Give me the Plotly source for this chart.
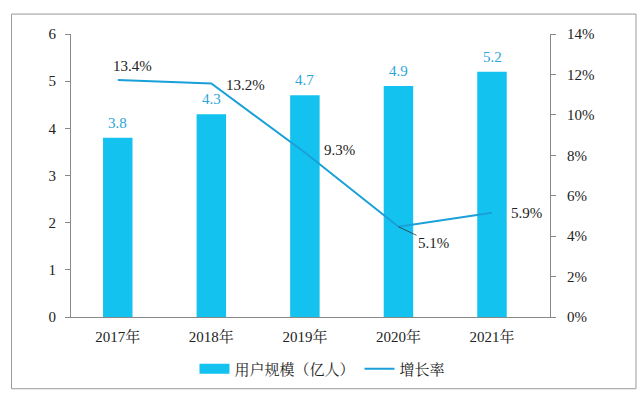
import plotly.graph_objects as go

years = ["2017年", "2018年", "2019年", "2020年", "2021年"]
users = [3.8, 4.3, 4.7, 4.9, 5.2]
growth = [13.4, 13.2, 9.3, 5.1, 5.9]
growth_labels = ["13.4%", "13.2%", "9.3%", "5.1%", "5.9%"]
left_ticks = [0, 1, 2, 3, 4, 5, 6]
right_tick_text = ["0%", "2%", "4%", "6%", "8%", "10%", "12%", "14%"]

BAR = "#14C2F0"
LINE = "#1AA0D8"
FONT = "Liberation Serif, Times New Roman, Noto Serif CJK SC, Noto Sans CJK SC, serif"

fig = go.Figure()
fig.add_trace(go.Bar(x=years, y=users, name="用户规模（亿人）", marker_color=BAR,
                     marker_line_width=0, yaxis="y", showlegend=False))
# legend swatch drawn as a wide block like the original
fig.add_trace(go.Scatter(x=[None], y=[None], name="用户规模（亿人）", mode="lines",
                         line=dict(color=BAR, width=10), yaxis="y"))
fig.add_trace(go.Scatter(x=years, y=growth, name="增长率", mode="lines",
                         line=dict(color=LINE, width=2), yaxis="y2"))

# bar value labels
for x, v in zip(years, users):
    fig.add_annotation(x=x, y=v, xref="x", yref="y", text=f"{v}", showarrow=False,
                       yanchor="bottom", yshift=5, font=dict(color="#2AA5D8", size=15, family=FONT))

# growth labels
offsets = [(14.5, 13.5), (34, -1.5), (35, 2.5), (35, -16.5), (34.5, 0)]
for i, (x, v, t) in enumerate(zip(years, growth, growth_labels)):
    dx, dy = offsets[i]
    if i == 3:
        fig.add_annotation(x=x, y=v, xref="x", yref="y2", text=t, showarrow=True,
                           arrowhead=0, arrowwidth=0.8, arrowcolor="#333", ax=dx, ay=-dy,
                           standoff=0, font=dict(color="#222", size=15, family=FONT))
    else:
        fig.add_annotation(x=x, y=v, xref="x", yref="y2", text=t, showarrow=False,
                           xshift=dx, yshift=dy, font=dict(color="#222", size=15, family=FONT))

r2max = 16
fig.update_layout(
    width=642, height=396,
    margin=dict(l=71, r=92, t=34, b=78),
    paper_bgcolor="white", plot_bgcolor="white",
    font=dict(family=FONT, size=15, color="#222"),
    bargap=0.685,
    showlegend=True,
    legend=dict(orientation="h", x=0.525, xanchor="center", y=-0.18, yanchor="middle",
                font=dict(size=15, color="#222"), itemwidth=30),
    xaxis=dict(range=[-0.5, 4.62], showline=True, linecolor="#888", linewidth=1, ticks="",
               showgrid=False, tickfont=dict(size=15), ticklabelstandoff=6),
    yaxis=dict(range=[0, 6], tickvals=left_ticks, showline=True, linecolor="#888", linewidth=1,
               ticks="outside", ticklen=5, tickcolor="#888", showgrid=False, zeroline=False,
               ticklabelstandoff=6, tickfont=dict(size=15)),
    yaxis2=dict(range=[0, r2max], overlaying="y", side="right",
                tickvals=[i * r2max / (len(right_tick_text) - 1) for i in range(len(right_tick_text))],
                ticktext=right_tick_text, showline=True, linecolor="#888", linewidth=1,
                ticks="outside", ticklen=5, tickcolor="#888", showgrid=False, zeroline=False,
                ticklabelstandoff=8, tickfont=dict(size=15)),
    shapes=[dict(type="rect", xref="paper", yref="paper", x0=-0.1242, x1=1.1795,
                 y0=-0.2535, y1=1.0704, line=dict(color="#999", width=1), layer="above")],
)

fig.write_html("out.html", config={"displayModeBar": False},
               post_script="document.body.style.margin='0';")
